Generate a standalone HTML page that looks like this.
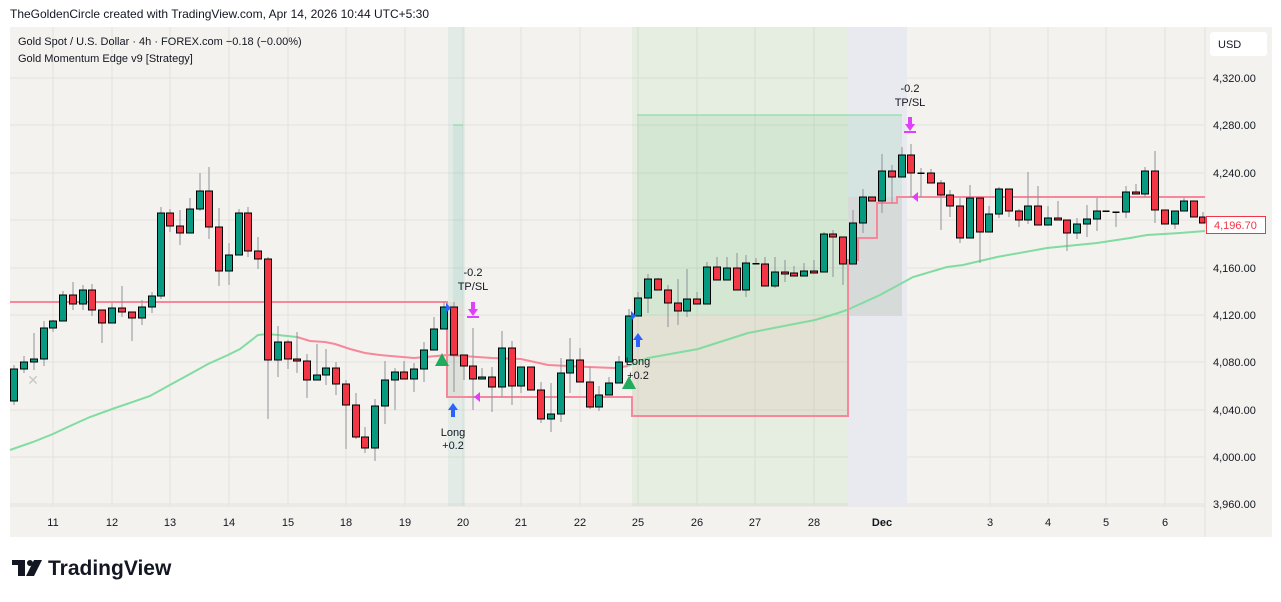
<!DOCTYPE html>
<html><head><meta charset="utf-8"><style>
body{margin:0;background:#fff;width:1281px;height:597px;overflow:hidden;font-family:"Liberation Sans",sans-serif}
svg text{font-family:"Liberation Sans",sans-serif}
.w{stroke:#8f929b;stroke-width:1}
.g{fill:#089981;stroke:#000;stroke-width:1}
.r{fill:#f23645;stroke:#000;stroke-width:1}
</style></head><body>
<svg width="1281" height="597" viewBox="0 0 1281 597" xmlns="http://www.w3.org/2000/svg">
<text x="10" y="18" font-size="12" fill="#131722">TheGoldenCircle created with TradingView.com, Apr 14, 2026 10:44 UTC+5:30</text>
<rect x="10" y="27" width="1262" height="510" fill="#f3f2ee"/>
<!-- grid -->
<g stroke="#e3e2de" stroke-width="1">
<line x1="10" y1="78" x2="1205" y2="78"/><line x1="10" y1="125" x2="1205" y2="125"/><line x1="10" y1="173" x2="1205" y2="173"/><line x1="10" y1="220" x2="1205" y2="220"/><line x1="10" y1="268" x2="1205" y2="268"/><line x1="10" y1="315" x2="1205" y2="315"/><line x1="10" y1="362" x2="1205" y2="362"/><line x1="10" y1="410" x2="1205" y2="410"/><line x1="10" y1="457" x2="1205" y2="457"/><line x1="10" y1="504" x2="1205" y2="504"/>
<line x1="53" y1="27" x2="53" y2="506"/><line x1="112" y1="27" x2="112" y2="506"/><line x1="170" y1="27" x2="170" y2="506"/><line x1="229" y1="27" x2="229" y2="506"/><line x1="288" y1="27" x2="288" y2="506"/><line x1="346" y1="27" x2="346" y2="506"/><line x1="405" y1="27" x2="405" y2="506"/><line x1="463" y1="27" x2="463" y2="506"/><line x1="521" y1="27" x2="521" y2="506"/><line x1="580" y1="27" x2="580" y2="506"/><line x1="638" y1="27" x2="638" y2="506"/><line x1="697" y1="27" x2="697" y2="506"/><line x1="755" y1="27" x2="755" y2="506"/><line x1="814" y1="27" x2="814" y2="506"/><line x1="882" y1="27" x2="882" y2="506"/><line x1="990" y1="27" x2="990" y2="506"/><line x1="1048" y1="27" x2="1048" y2="506"/><line x1="1106" y1="27" x2="1106" y2="506"/><line x1="1165" y1="27" x2="1165" y2="506"/>
<line x1="10" y1="506" x2="1205" y2="506"/><line x1="1205" y1="27" x2="1205" y2="537"/>
</g>
<!-- shaded zones -->
<rect x="448" y="27" width="17" height="479" fill="#089981" fill-opacity="0.07"/>
<rect x="453" y="125" width="10" height="177" fill="#089981" fill-opacity="0.08"/>
<line x1="453" y1="125" x2="463" y2="125" stroke="#7fd99a"/>
<rect x="448" y="302" width="15" height="95" fill="#c9a59b" fill-opacity="0.15"/>
<rect x="632" y="27" width="216" height="479" fill="#4caf50" fill-opacity="0.08"/>
<rect x="848" y="27" width="59" height="479" fill="#e9eaf0"/>
<rect x="637" y="115" width="265" height="201" fill="#4cc170" fill-opacity="0.12"/>
<line x1="637" y1="115" x2="902" y2="115" stroke="#7fd99a" stroke-width="1"/>
<rect x="632" y="316" width="216" height="100" fill="#d9a89c" fill-opacity="0.18"/>
<rect x="848" y="197" width="54" height="119" fill="#d5d5d5" fill-opacity="0.7"/>
<!-- MA line -->
<polyline fill="none" stroke="#81dca0" stroke-width="2" points="10,450 33,442 53,434 70,426 90,417 115,408 150,396 168,386 190,374 208,364 228,355 240,349 258,335 268,334 297,337"/>
<polyline fill="none" stroke="#f7879a" stroke-width="2" points="297,337 310,341 325,342 335,344 350,349 365,353 380,355 414,358 448,355 492,358 521,359 548,365 588,367 615,368 628,366"/>
<polyline fill="none" stroke="#81dca0" stroke-width="2" points="628,366 648,358 698,349 748,333 815,320 835,314 847,310 880,295 913,277 947,267 963,265 997,257 1047,248 1097,243 1130,238 1147,235 1180,233 1205,231"/>
<!-- stop line -->
<polyline fill="none" stroke="#f7879a" stroke-width="2" points="10,302 447,302 447,397 632,397 632,416 848,416 848,260 858,260 858,238 877,238 877,203 897,203 897,197 1205,197"/>
<!-- candles -->
<g>
<line class="w" x1="14" y1="365" x2="14" y2="405"/><rect class="g" x="10.5" y="369" width="7" height="32"/>
<line class="w" x1="24" y1="356" x2="24" y2="373"/><rect class="g" x="20.5" y="362" width="7" height="7"/>
<line class="w" x1="34" y1="333" x2="34" y2="370"/><rect class="g" x="30.5" y="359" width="7" height="3"/>
<line class="w" x1="44" y1="321" x2="44" y2="366"/><rect class="g" x="40.5" y="328" width="7" height="31"/>
<line class="w" x1="53" y1="320" x2="53" y2="332"/><rect class="g" x="49.5" y="321" width="7" height="7"/>
<line class="w" x1="63" y1="291" x2="63" y2="321"/><rect class="g" x="59.5" y="295" width="7" height="26"/>
<line class="w" x1="73" y1="282" x2="73" y2="310"/><rect class="r" x="69.5" y="295" width="7" height="9"/>
<line class="w" x1="83" y1="285" x2="83" y2="310"/><rect class="g" x="79.5" y="290" width="7" height="14"/>
<line class="w" x1="92" y1="284" x2="92" y2="316"/><rect class="r" x="88.5" y="290" width="7" height="20"/>
<line class="w" x1="102" y1="310" x2="102" y2="343"/><rect class="r" x="98.5" y="310" width="7" height="13"/>
<line class="w" x1="112" y1="303" x2="112" y2="323"/><rect class="g" x="108.5" y="308" width="7" height="15"/>
<line class="w" x1="122" y1="286" x2="122" y2="317"/><rect class="r" x="118.5" y="308" width="7" height="4"/>
<line class="w" x1="132" y1="312" x2="132" y2="341"/><rect class="r" x="128.5" y="312" width="7" height="6"/>
<line class="w" x1="142" y1="300" x2="142" y2="325"/><rect class="g" x="138.5" y="307" width="7" height="11"/>
<line class="w" x1="152" y1="292" x2="152" y2="313"/><rect class="g" x="148.5" y="296" width="7" height="11"/>
<line class="w" x1="161" y1="207" x2="161" y2="299"/><rect class="g" x="157.5" y="213" width="7" height="83"/>
<line class="w" x1="170" y1="209" x2="170" y2="232"/><rect class="r" x="166.5" y="213" width="7" height="13"/>
<line class="w" x1="180" y1="210" x2="180" y2="245"/><rect class="r" x="176.5" y="226" width="7" height="7"/>
<line class="w" x1="190" y1="198" x2="190" y2="233"/><rect class="g" x="186.5" y="209" width="7" height="24"/>
<line class="w" x1="200" y1="173" x2="200" y2="211"/><rect class="g" x="196.5" y="191" width="7" height="18"/>
<line class="w" x1="209" y1="167" x2="209" y2="239"/><rect class="r" x="205.5" y="191" width="7" height="36"/>
<line class="w" x1="219" y1="208" x2="219" y2="286"/><rect class="r" x="215.5" y="227" width="7" height="44"/>
<line class="w" x1="229" y1="243" x2="229" y2="285"/><rect class="g" x="225.5" y="255" width="7" height="16"/>
<line class="w" x1="239" y1="209" x2="239" y2="255"/><rect class="g" x="235.5" y="213" width="7" height="42"/>
<line class="w" x1="248" y1="207" x2="248" y2="257"/><rect class="r" x="244.5" y="213" width="7" height="38"/>
<line class="w" x1="258" y1="237" x2="258" y2="269"/><rect class="r" x="254.5" y="251" width="7" height="8"/>
<line class="w" x1="268" y1="257" x2="268" y2="419"/><rect class="r" x="264.5" y="259" width="7" height="101"/>
<line class="w" x1="278" y1="326" x2="278" y2="377"/><rect class="g" x="274.5" y="342" width="7" height="18"/>
<line class="w" x1="288" y1="340" x2="288" y2="369"/><rect class="r" x="284.5" y="342" width="7" height="17"/>
<line class="w" x1="297" y1="332" x2="297" y2="373"/><rect class="r" x="293.5" y="359" width="7" height="2"/>
<line class="w" x1="307" y1="354" x2="307" y2="398"/><rect class="r" x="303.5" y="361" width="7" height="19"/>
<line class="w" x1="317" y1="344" x2="317" y2="380"/><rect class="g" x="313.5" y="375" width="7" height="5"/>
<line class="w" x1="326" y1="349" x2="326" y2="385"/><rect class="g" x="322.5" y="368" width="7" height="7"/>
<line class="w" x1="336" y1="362" x2="336" y2="395"/><rect class="r" x="332.5" y="368" width="7" height="16"/>
<line class="w" x1="346" y1="380" x2="346" y2="449"/><rect class="r" x="342.5" y="384" width="7" height="21"/>
<line class="w" x1="356" y1="393" x2="356" y2="439"/><rect class="r" x="352.5" y="405" width="7" height="32"/>
<line class="w" x1="365" y1="427" x2="365" y2="453"/><rect class="r" x="361.5" y="437" width="7" height="11"/>
<line class="w" x1="375" y1="399" x2="375" y2="461"/><rect class="g" x="371.5" y="406" width="7" height="42"/>
<line class="w" x1="385" y1="361" x2="385" y2="424"/><rect class="g" x="381.5" y="380" width="7" height="26"/>
<line class="w" x1="395" y1="368" x2="395" y2="410"/><rect class="g" x="391.5" y="372" width="7" height="8"/>
<line class="w" x1="404" y1="361" x2="404" y2="379"/><rect class="r" x="400.5" y="372" width="7" height="7"/>
<line class="w" x1="414" y1="363" x2="414" y2="392"/><rect class="g" x="410.5" y="369" width="7" height="10"/>
<line class="w" x1="424" y1="342" x2="424" y2="382"/><rect class="g" x="420.5" y="350" width="7" height="19"/>
<line class="w" x1="434" y1="317" x2="434" y2="350"/><rect class="g" x="430.5" y="329" width="7" height="21"/>
<line class="w" x1="444" y1="302" x2="444" y2="329"/><rect class="g" x="440.5" y="307" width="7" height="22"/>
<line class="w" x1="454" y1="302" x2="454" y2="392"/><rect class="r" x="450.5" y="307" width="7" height="48"/>
<line class="w" x1="464" y1="355" x2="464" y2="380"/><rect class="r" x="460.5" y="355" width="7" height="11"/>
<line class="w" x1="473" y1="328" x2="473" y2="410"/><rect class="r" x="469.5" y="366" width="7" height="13"/>
<line class="w" x1="482" y1="368" x2="482" y2="379"/><rect class="g" x="478.5" y="377" width="7" height="2"/>
<line class="w" x1="492" y1="367" x2="492" y2="412"/><rect class="r" x="488.5" y="377" width="7" height="10"/>
<line class="w" x1="502" y1="331" x2="502" y2="397"/><rect class="g" x="498.5" y="348" width="7" height="39"/>
<line class="w" x1="512" y1="341" x2="512" y2="405"/><rect class="r" x="508.5" y="348" width="7" height="38"/>
<line class="w" x1="521" y1="367" x2="521" y2="393"/><rect class="g" x="517.5" y="367" width="7" height="19"/>
<line class="w" x1="531" y1="367" x2="531" y2="390"/><rect class="r" x="527.5" y="367" width="7" height="23"/>
<line class="w" x1="541" y1="382" x2="541" y2="423"/><rect class="r" x="537.5" y="390" width="7" height="29"/>
<line class="w" x1="551" y1="383" x2="551" y2="432"/><rect class="g" x="547.5" y="414" width="7" height="5"/>
<line class="w" x1="561" y1="358" x2="561" y2="422"/><rect class="g" x="557.5" y="373" width="7" height="41"/>
<line class="w" x1="570" y1="338" x2="570" y2="393"/><rect class="g" x="566.5" y="360" width="7" height="13"/>
<line class="w" x1="580" y1="348" x2="580" y2="382"/><rect class="r" x="576.5" y="360" width="7" height="22"/>
<line class="w" x1="590" y1="367" x2="590" y2="409"/><rect class="r" x="586.5" y="382" width="7" height="25"/>
<line class="w" x1="599" y1="386" x2="599" y2="411"/><rect class="g" x="595.5" y="395" width="7" height="12"/>
<line class="w" x1="609" y1="377" x2="609" y2="395"/><rect class="g" x="605.5" y="383" width="7" height="12"/>
<line class="w" x1="619" y1="356" x2="619" y2="383"/><rect class="g" x="615.5" y="362" width="7" height="21"/>
<line class="w" x1="629" y1="309" x2="629" y2="362"/><rect class="g" x="625.5" y="316" width="7" height="46"/>
<line class="w" x1="638" y1="292" x2="638" y2="316"/><rect class="g" x="634.5" y="298" width="7" height="18"/>
<line class="w" x1="648" y1="274" x2="648" y2="313"/><rect class="g" x="644.5" y="279" width="7" height="19"/>
<line class="w" x1="658" y1="278" x2="658" y2="290"/><rect class="r" x="654.5" y="279" width="7" height="11"/>
<line class="w" x1="668" y1="285" x2="668" y2="327"/><rect class="r" x="664.5" y="290" width="7" height="13"/>
<line class="w" x1="678" y1="279" x2="678" y2="325"/><rect class="r" x="674.5" y="303" width="7" height="8"/>
<line class="w" x1="687" y1="269" x2="687" y2="317"/><rect class="g" x="683.5" y="299" width="7" height="12"/>
<line class="w" x1="697" y1="292" x2="697" y2="304"/><rect class="r" x="693.5" y="299" width="7" height="5"/>
<line class="w" x1="707" y1="262" x2="707" y2="304"/><rect class="g" x="703.5" y="267" width="7" height="37"/>
<line class="w" x1="717" y1="257" x2="717" y2="280"/><rect class="r" x="713.5" y="267" width="7" height="13"/>
<line class="w" x1="727" y1="257" x2="727" y2="280"/><rect class="g" x="723.5" y="268" width="7" height="12"/>
<line class="w" x1="737" y1="253" x2="737" y2="290"/><rect class="r" x="733.5" y="268" width="7" height="22"/>
<line class="w" x1="746" y1="255" x2="746" y2="297"/><rect class="g" x="742.5" y="263" width="7" height="27"/>
<line class="w" x1="756" y1="258" x2="756" y2="264"/><rect x="752.5" y="263" width="7" height="1.5" fill="#000"/>
<line class="w" x1="765" y1="257" x2="765" y2="286"/><rect class="r" x="761.5" y="264" width="7" height="22"/>
<line class="w" x1="775" y1="257" x2="775" y2="288"/><rect class="g" x="771.5" y="272" width="7" height="14"/>
<line class="w" x1="785" y1="260" x2="785" y2="282"/><rect class="r" x="781.5" y="272" width="7" height="2"/>
<line class="w" x1="794" y1="266" x2="794" y2="276"/><rect class="r" x="790.5" y="273" width="7" height="3"/>
<line class="w" x1="804" y1="263" x2="804" y2="276"/><rect class="g" x="800.5" y="271" width="7" height="5"/>
<line class="w" x1="814" y1="260" x2="814" y2="272"/><rect class="r" x="810.5" y="271" width="7" height="2"/>
<line class="w" x1="824" y1="232" x2="824" y2="272"/><rect class="g" x="820.5" y="234" width="7" height="38"/>
<line class="w" x1="833" y1="230" x2="833" y2="277"/><rect class="r" x="829.5" y="234" width="7" height="3"/>
<line class="w" x1="843" y1="237" x2="843" y2="285"/><rect class="r" x="839.5" y="237" width="7" height="27"/>
<line class="w" x1="853" y1="210" x2="853" y2="264"/><rect class="g" x="849.5" y="223" width="7" height="41"/>
<line class="w" x1="863" y1="189" x2="863" y2="233"/><rect class="g" x="859.5" y="197" width="7" height="26"/>
<line class="w" x1="872" y1="197" x2="872" y2="201"/><rect class="r" x="868.5" y="197" width="7" height="4"/>
<line class="w" x1="882" y1="154" x2="882" y2="213"/><rect class="g" x="878.5" y="171" width="7" height="30"/>
<line class="w" x1="892" y1="165" x2="892" y2="203"/><rect class="r" x="888.5" y="171" width="7" height="6"/>
<line class="w" x1="902" y1="147" x2="902" y2="177"/><rect class="g" x="898.5" y="155" width="7" height="22"/>
<line class="w" x1="911" y1="144" x2="911" y2="197"/><rect class="r" x="907.5" y="155" width="7" height="18"/>
<line class="w" x1="921" y1="168" x2="921" y2="197"/><rect x="917.5" y="172.5" width="7" height="1.5" fill="#000"/>
<line class="w" x1="931" y1="169" x2="931" y2="183"/><rect class="r" x="927.5" y="173" width="7" height="10"/>
<line class="w" x1="941" y1="180" x2="941" y2="230"/><rect class="r" x="937.5" y="183" width="7" height="12"/>
<line class="w" x1="950" y1="190" x2="950" y2="217"/><rect class="r" x="946.5" y="195" width="7" height="11"/>
<line class="w" x1="960" y1="198" x2="960" y2="243"/><rect class="r" x="956.5" y="206" width="7" height="32"/>
<line class="w" x1="970" y1="185" x2="970" y2="238"/><rect class="g" x="966.5" y="198" width="7" height="40"/>
<line class="w" x1="980" y1="198" x2="980" y2="263"/><rect class="r" x="976.5" y="198" width="7" height="34"/>
<line class="w" x1="989" y1="206" x2="989" y2="232"/><rect class="g" x="985.5" y="214" width="7" height="18"/>
<line class="w" x1="999" y1="187" x2="999" y2="218"/><rect class="g" x="995.5" y="189" width="7" height="25"/>
<line class="w" x1="1009" y1="189" x2="1009" y2="217"/><rect class="r" x="1005.5" y="189" width="7" height="22"/>
<line class="w" x1="1019" y1="209" x2="1019" y2="227"/><rect class="r" x="1015.5" y="211" width="7" height="9"/>
<line class="w" x1="1028" y1="172" x2="1028" y2="224"/><rect class="g" x="1024.5" y="206" width="7" height="14"/>
<line class="w" x1="1038" y1="186" x2="1038" y2="225"/><rect class="r" x="1034.5" y="206" width="7" height="19"/>
<line class="w" x1="1048" y1="206" x2="1048" y2="225"/><rect class="g" x="1044.5" y="218" width="7" height="7"/>
<line class="w" x1="1058" y1="201" x2="1058" y2="220"/><rect class="r" x="1054.5" y="218" width="7" height="2"/>
<line class="w" x1="1067" y1="220" x2="1067" y2="251"/><rect class="r" x="1063.5" y="220" width="7" height="13"/>
<line class="w" x1="1077" y1="218" x2="1077" y2="239"/><rect class="g" x="1073.5" y="224" width="7" height="9"/>
<line class="w" x1="1087" y1="205" x2="1087" y2="237"/><rect class="g" x="1083.5" y="219" width="7" height="5"/>
<line class="w" x1="1097" y1="198" x2="1097" y2="231"/><rect class="g" x="1093.5" y="211" width="7" height="8"/>
<rect x="1102.5" y="210.5" width="7" height="1.5" fill="#000"/>
<line class="w" x1="1116" y1="212" x2="1116" y2="227"/><rect x="1112.5" y="211.5" width="7" height="1.5" fill="#000"/>
<line class="w" x1="1126" y1="186" x2="1126" y2="218"/><rect class="g" x="1122.5" y="192" width="7" height="20"/>
<line class="w" x1="1136" y1="184" x2="1136" y2="194"/><rect class="r" x="1132.5" y="192" width="7" height="2"/>
<line class="w" x1="1145" y1="167" x2="1145" y2="197"/><rect class="g" x="1141.5" y="171" width="7" height="23"/>
<line class="w" x1="1155" y1="151" x2="1155" y2="223"/><rect class="r" x="1151.5" y="171" width="7" height="39"/>
<line class="w" x1="1165" y1="210" x2="1165" y2="224"/><rect class="r" x="1161.5" y="210" width="7" height="14"/>
<line class="w" x1="1175" y1="211" x2="1175" y2="229"/><rect class="g" x="1171.5" y="211" width="7" height="13"/>
<line class="w" x1="1184" y1="198" x2="1184" y2="211"/><rect class="g" x="1180.5" y="201" width="7" height="10"/>
<line class="w" x1="1194" y1="201" x2="1194" y2="217"/><rect class="r" x="1190.5" y="201" width="7" height="16"/>
<line class="w" x1="1203" y1="212" x2="1203" y2="223"/><rect class="r" x="1199.5" y="217" width="5.5" height="6"/>
</g>
<!-- markers -->
<text x="33" y="385" font-size="14" fill="#c8c8c8" text-anchor="middle">✕</text>
<polygon points="442,353 435,366 449,366" fill="#22ab5c"/>
<polygon points="629,376 622,389 636,389" fill="#22ab5c"/>
<polygon points="446,303 446,313 451,308" fill="#2962ff"/>
<polygon points="631,311 631,321 636,316" fill="#2962ff"/>
<g fill="#2962ff"><polygon points="453,403 448,410 451,410 451,417 455,417 455,410 458,410"/><polygon points="638,333 633,340 636,340 636,347 640,347 640,340 643,340"/></g>
<g fill="#e040fb"><polygon points="473,316 468,309 471,309 471,302 475,302 475,309 478,309"/><rect x="467" y="316" width="12" height="2"/>
<polygon points="910,131 905,124 908,124 908,117 912,117 912,124 915,124"/><rect x="904" y="131" width="12" height="2"/>
<polygon points="474,397 480,392 480,402"/><polygon points="912,197 918,192 918,202"/></g>
<g font-size="11" fill="#131722" text-anchor="middle">
<text x="453" y="436">Long</text><text x="453" y="449">+0.2</text>
<text x="473" y="276">-0.2</text><text x="473" y="290">TP/SL</text>
<text x="638" y="365">Long</text><text x="638" y="379">+0.2</text>
<text x="910" y="92">-0.2</text><text x="910" y="106">TP/SL</text>
</g>
<!-- legend -->
<text x="18" y="45" font-size="11" fill="#131722">Gold Spot / U.S. Dollar · 4h · FOREX.com  −0.18 (−0.00%)</text>
<text x="18" y="62" font-size="11" fill="#131722">Gold Momentum Edge v9 [Strategy]</text>
<!-- price axis -->
<rect x="1210" y="32" width="57" height="24" rx="3" fill="#fff"/>
<text x="1218" y="48" font-size="11" fill="#131722">USD</text>
<g font-size="11" fill="#131722">
<text x="1213" y="82">4,320.00</text><text x="1213" y="129">4,280.00</text><text x="1213" y="177">4,240.00</text><text x="1213" y="272">4,160.00</text><text x="1213" y="319">4,120.00</text><text x="1213" y="366">4,080.00</text><text x="1213" y="414">4,040.00</text><text x="1213" y="461">4,000.00</text><text x="1213" y="508">3,960.00</text>
</g>
<rect x="1206.5" y="216.5" width="59" height="17" fill="#fff" stroke="#f23645"/>
<text x="1214" y="229" font-size="11" fill="#f23645">4,196.70</text>
<!-- time axis -->
<g font-size="11" fill="#131722" text-anchor="middle">
<text x="53" y="526">11</text><text x="112" y="526">12</text><text x="170" y="526">13</text><text x="229" y="526">14</text><text x="288" y="526">15</text><text x="346" y="526">18</text><text x="405" y="526">19</text><text x="463" y="526">20</text><text x="521" y="526">21</text><text x="580" y="526">22</text><text x="638" y="526">25</text><text x="697" y="526">26</text><text x="755" y="526">27</text><text x="814" y="526">28</text><text x="882" y="526" font-weight="bold">Dec</text><text x="990" y="526">3</text><text x="1048" y="526">4</text><text x="1106" y="526">5</text><text x="1165" y="526">6</text>
</g>
<!-- logo -->
<g fill="#131722">
<rect x="12" y="560" width="13" height="5"/><rect x="18" y="560" width="7" height="16"/>
<circle cx="30" cy="563" r="3"/>
<polygon points="34,560 42,560 34,576 26,576"/>
</g>
<text x="48" y="575" font-size="21" font-weight="bold" fill="#131722">TradingView</text>
</svg>
</body></html>
